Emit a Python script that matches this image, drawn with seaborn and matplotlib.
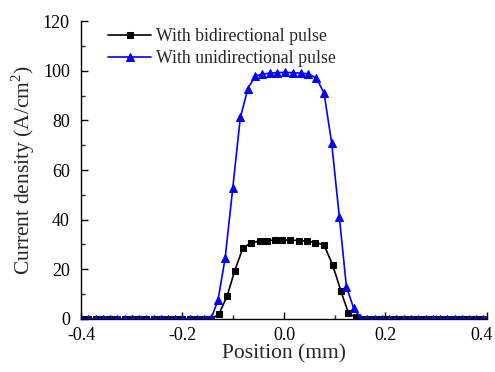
import matplotlib
matplotlib.use("Agg")
import matplotlib.pyplot as plt
from matplotlib.ticker import MultipleLocator
from matplotlib.transforms import ScaledTranslation
import seaborn as sns
import pandas as pd

# Position (mm) and current density (A/cm^2) for each pulse mode
pos_bi = [-0.400, -0.386, -0.371, -0.357, -0.343, -0.329, -0.314, -0.300, -0.286,
          -0.271, -0.257, -0.243, -0.229, -0.214, -0.200, -0.186, -0.171, -0.157,
          -0.143, -0.128, -0.112, -0.097, -0.081, -0.065, -0.048, -0.033, -0.018,
          -0.003, 0.012, 0.029, 0.046, 0.062, 0.079, 0.096, 0.112, 0.127, 0.141,
          0.155, 0.171, 0.186, 0.200, 0.214, 0.229, 0.243, 0.257, 0.271, 0.286,
          0.300, 0.314, 0.329, 0.343, 0.357, 0.371, 0.386, 0.400]
cd_bi = [0, 0, 0, 0, 0, 0, 0, 0, 0,
         0, 0, 0, 0, 0, 0, 0, 0, 0,
         0, 2.0, 9.3, 19.5, 28.6, 30.6, 31.4, 31.6, 31.8,
         31.8, 31.8, 31.6, 31.4, 30.8, 29.8, 21.7, 11.4, 2.3, 0.7,
         0, 0, 0, 0, 0, 0, 0, 0, 0, 0,
         0, 0, 0, 0, 0, 0, 0, 0]

pos_uni = [-0.400, -0.386, -0.371, -0.357, -0.343, -0.329, -0.314, -0.300, -0.286,
           -0.271, -0.257, -0.243, -0.229, -0.214, -0.200, -0.186, -0.171, -0.157,
           -0.143, -0.130, -0.116, -0.101, -0.086, -0.071, -0.057, -0.043, -0.028,
           -0.013, 0.002, 0.017, 0.033, 0.048, 0.064, 0.079, 0.094, 0.109, 0.123,
           0.137, 0.150, 0.164, 0.179, 0.193, 0.207, 0.221, 0.236, 0.250, 0.264,
           0.279, 0.293, 0.307, 0.321, 0.336, 0.350, 0.364, 0.379, 0.393]
cd_uni = [0, 0, 0, 0, 0, 0, 0, 0, 0,
          0, 0, 0, 0, 0, 0, 0, 0, 0,
          0.5, 7.6, 24.4, 52.6, 81.2, 92.8, 97.8, 98.6, 99.0,
          99.2, 99.3, 99.2, 99.0, 98.7, 97.0, 90.9, 70.8, 41.2, 13.0,
          4.5, 0.5, 0, 0, 0, 0, 0, 0, 0, 0,
          0, 0, 0, 0, 0, 0, 0, 0, 0]

x_ticks = [-0.4, -0.2, 0.0, 0.2, 0.4]
y_ticks = [0, 20, 40, 60, 80, 100, 120]

sns.set_style("ticks")
plt.rcParams["font.family"] = ["Liberation Serif", "DejaVu Serif"]
plt.rcParams["mathtext.fontset"] = "custom"
plt.rcParams["mathtext.rm"] = "Liberation Serif"

fig = plt.figure(figsize=(4.95, 3.72), dpi=100)
ax = fig.add_axes([0.1636, 0.1425, 0.8202, 0.801])

df_bi = pd.DataFrame({"pos": pos_bi, "cd": cd_bi})
df_uni = pd.DataFrame({"pos": pos_uni, "cd": cd_uni})

sns.lineplot(data=df_bi, x="pos", y="cd", ax=ax, color="black", marker="s",
             markersize=5, markeredgecolor="black", linewidth=1.2, sort=False,
             label="With bidirectional pulse")
sns.lineplot(data=df_uni, x="pos", y="cd", ax=ax, color="#0000ff", marker="^",
             markersize=6, markeredgecolor="#0000ff", linewidth=1.2, sort=False,
             label="With unidirectional pulse")

ax.set_xlim(-0.4, 0.4)
ax.set_ylim(0, 120)
ax.set_xticks(x_ticks)
ax.set_xticklabels([f"{v:.1f}" for v in x_ticks])
ax.set_yticks(y_ticks)
ax.xaxis.set_minor_locator(MultipleLocator(0.1))
ax.yaxis.set_minor_locator(MultipleLocator(10))
ax.tick_params(which="major", direction="in", length=5, width=1, labelsize=13,
               colors="black")
ax.tick_params(axis="x", which="major", pad=6)
ax.tick_params(axis="y", which="major", pad=8)
ax.tick_params(which="minor", direction="in", length=3, width=1)

# keep the rightmost x tick label inside the canvas
last = ax.get_xticklabels()[-1]
last.set_transform(last.get_transform() + ScaledTranslation(-5 / 100, 0, fig.dpi_scale_trans))

for side in ("top", "right"):
    ax.spines[side].set_visible(False)
for side in ("left", "bottom"):
    ax.spines[side].set_linewidth(1.0)
    ax.spines[side].set_color("black")

ax.set_xlabel("Position (mm)", fontsize=15.5, labelpad=0)
ax.set_ylabel("Current density (A/cm$^2$)", fontsize=15.5, labelpad=4)

leg = ax.legend(loc="upper left", frameon=False, fontsize=12.8,
                handlelength=2.4, handletextpad=0.3, borderaxespad=0.0,
                bbox_to_anchor=(0.05, 1.0), labelspacing=0.3)

fig.savefig("out.png", dpi=100)
